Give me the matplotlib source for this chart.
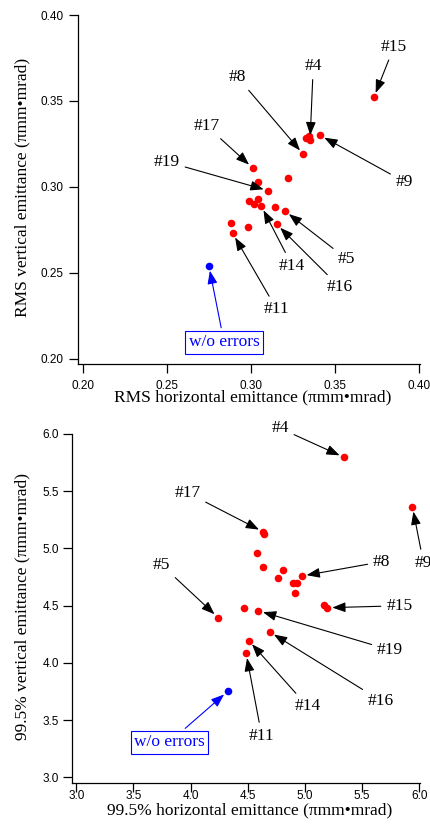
import matplotlib
matplotlib.use("Agg")
import matplotlib.pyplot as plt
import numpy as np

# ---------------- data ----------------
# RMS emittance (pi mm mrad) for error seeds
rms_h = [0.373, 0.3327, 0.3346, 0.3351, 0.341, 0.331, 0.322, 0.301, 0.304, 0.3103,
         0.299, 0.304, 0.302, 0.3061, 0.3143, 0.3202, 0.3153, 0.2881, 0.298, 0.2891]
rms_v = [0.352, 0.3282, 0.3294, 0.3272, 0.330, 0.319, 0.305, 0.311, 0.303, 0.2978,
         0.2918, 0.2929, 0.2898, 0.2889, 0.2881, 0.2859, 0.2782, 0.2788, 0.2768, 0.273]
rms_nominal = (0.275, 0.254)

# 99.5% emittance (pi mm mrad) for error seeds
p995_h = [5.342, 5.940, 4.636, 4.642, 4.584, 4.636, 4.811, 4.762, 4.972, 4.899,
          4.928, 4.916, 5.167, 5.196, 4.470, 4.592, 4.240, 4.692, 4.508, 4.485]
p995_v = [5.796, 5.364, 5.145, 5.122, 4.956, 4.840, 4.811, 4.744, 4.759, 4.695,
          4.700, 4.607, 4.505, 4.482, 4.476, 4.455, 4.396, 4.270, 4.195, 4.084]
p995_nominal = (4.325, 3.752)

rms_ticks = [0.20, 0.25, 0.30, 0.35, 0.40]
p995_ticks = [3.0, 3.5, 4.0, 4.5, 5.0, 5.5, 6.0]

# labelled seeds: (label, index of point)
rms_labels = [("#15", 0), ("#4", 3), ("#9", 4), ("#8", 5), ("#17", 7), ("#19", 9),
              ("#14", 13), ("#5", 15), ("#16", 16), ("#11", 19)]
p995_labels = [("#4", 0), ("#9", 1), ("#17", 2), ("#8", 8), ("#15", 13), ("#19", 15),
               ("#5", 16), ("#16", 17), ("#14", 18), ("#11", 19)]
nominal_label = "w/o errors"

# ---------------- layout (label text positions, data coords) ----------------
rms_text_pos = {"#15": (0.3850, 0.3816), "#4": (0.3370, 0.3703), "#8": (0.2921, 0.3637),
                "#17": (0.2737, 0.3354), "#19": (0.2499, 0.3146), "#9": (0.3911, 0.3030),
                "#5": (0.3569, 0.2580), "#14": (0.3245, 0.2541), "#16": (0.3529, 0.2415),
                "#11": (0.3153, 0.2287)}
rms_nominal_text = (0.2840, 0.2095)
p995_text_pos = {"#4": (4.782, 6.050), "#17": (3.971, 5.487), "#9": (6.036, 4.875),
                 "#8": (5.672, 4.884), "#5": (3.747, 4.855), "#15": (5.826, 4.499),
                 "#19": (5.745, 4.112), "#16": (5.663, 3.669), "#14": (5.021, 3.622),
                 "#11": (4.622, 3.363)}
p995_nominal_text = (3.815, 3.308)

W, H = 430, 824
SERIF = ["Liberation Serif", "DejaVu Serif"]
SANS = ["Liberation Sans", "DejaVu Sans"]
ANN_FS = 12.5

fig = plt.figure(figsize=(W / 100, H / 100), dpi=100)


def px_axes(l, t, r, b):
    return fig.add_axes([l / W, 1 - b / H, (r - l) / W, (b - t) / H])


ax1 = px_axes(77.5, 15, 420, 364)
ax2 = px_axes(71.5, 434, 420, 783.3)


def style(ax, ticks, fmt, xlim, ylim, xpad, ypad):
    ax.set_xlim(*xlim)
    ax.set_ylim(*ylim)
    ax.set_xticks(ticks)
    ax.set_yticks(ticks)
    ax.set_xticklabels([fmt.format(t) for t in ticks])
    ax.set_yticklabels([fmt.format(t) for t in ticks])
    for s in ("top", "right"):
        ax.spines[s].set_visible(False)
    for s in ("left", "bottom"):
        ax.spines[s].set_linewidth(0.9)
    ax.tick_params(axis="both", direction="out", length=6.5, width=0.9, labelsize=8.5)
    ax.tick_params(axis="x", pad=xpad)
    ax.tick_params(axis="y", pad=ypad)
    for lab in ax.get_xticklabels() + ax.get_yticklabels():
        lab.set_family(SANS)


style(ax1, rms_ticks, "{:.2f}", (0.19691, 0.40042), (0.19692, 0.40), 4.7, 3.6)
style(ax2, p995_ticks, "{:.1f}", (2.958, 6.006), (2.9476, 6.0), -2.0, 2.4)

arrowprops = dict(arrowstyle="-|>,head_length=0.8,head_width=0.3", color="black",
                  lw=0.8, shrinkA=2, shrinkB=3.5, mutation_scale=10)
blue_arrow = dict(arrowprops, color="blue")


def draw(ax, xs, ys, nominal, labels, text_pos, nom_text):
    ax.scatter(xs, ys, s=30, color="#ff0000", zorder=3, linewidths=0)
    ax.scatter([nominal[0]], [nominal[1]], s=30, color="#0000ff", zorder=3, linewidths=0)
    for lab, i in labels:
        ax.annotate(lab, xy=(xs[i], ys[i]), xytext=text_pos[lab], textcoords="data",
                    ha="center", va="center", fontsize=ANN_FS, family=SERIF,
                    arrowprops=arrowprops, annotation_clip=False, zorder=4)
    ax.annotate(nominal_label, xy=nominal, xytext=nom_text, textcoords="data",
                ha="center", va="center", fontsize=ANN_FS, family=SERIF, color="blue",
                bbox=dict(boxstyle="square,pad=0.2", fc="white", ec="blue", lw=0.8),
                arrowprops=blue_arrow, annotation_clip=False, zorder=4)


draw(ax1, rms_h, rms_v, rms_nominal, rms_labels, rms_text_pos, rms_nominal_text)
draw(ax2, p995_h, p995_v, p995_nominal, p995_labels, p995_text_pos, p995_nominal_text)

# axis titles
def ftext(x, y, s, **kw):
    fig.text(x / W, 1 - y / H, s, fontsize=ANN_FS, family=SERIF, **kw)

ftext(253, 401, "RMS horizontal emittance (\u03c0mm\u2022mrad)", ha="center", va="baseline")
ftext(249.2, 814, "99.5% horizontal emittance (\u03c0mm\u2022mrad)", ha="center", va="baseline")
ftext(26, 187.7, "RMS vertical emittance (\u03c0mm\u2022mrad)", ha="center", va="baseline",
      rotation=90, rotation_mode="anchor")
ftext(26, 607, "99.5% vertical emittance (\u03c0mm\u2022mrad)", ha="center", va="baseline",
      rotation=90, rotation_mode="anchor")

fig.savefig("out.png", dpi=100)
